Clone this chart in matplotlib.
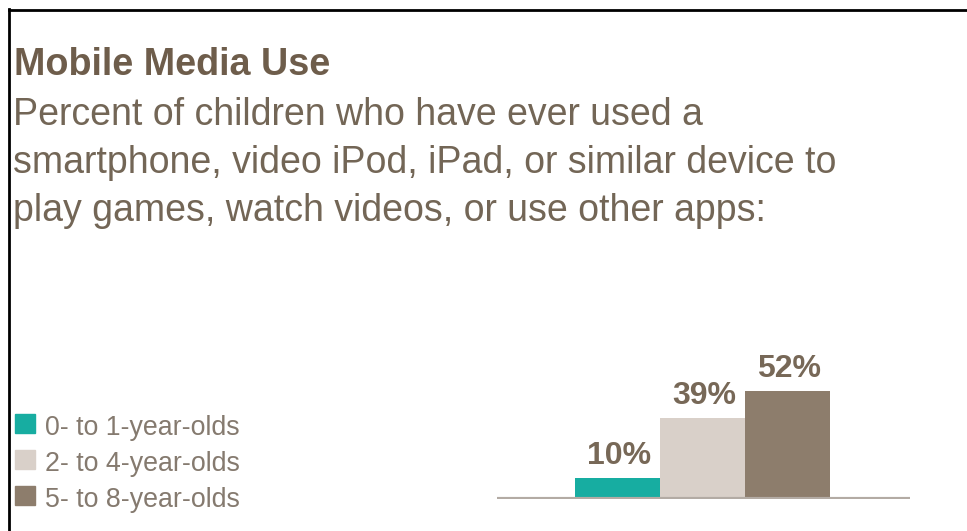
import matplotlib
matplotlib.use("Agg")
import matplotlib.pyplot as plt
from matplotlib.patches import Rectangle
from matplotlib.lines import Line2D

categories = ["0- to 1-year-olds", "2- to 4-year-olds", "5- to 8-year-olds"]
values = [10, 39, 52]
labels = ["10%", "39%", "52%"]
colors = ["#17ada1", "#d9d0c9", "#8d7d6c"]

title = "Mobile Media Use"
subtitle_lines = ["Percent of children who have ever used a",
                  "smartphone, video iPod, iPad, or similar device to",
                  "play games, watch videos, or use other apps:"]

W, H = 967, 531
plt.rcParams["font.family"] = ["Liberation Sans", "DejaVu Sans"]
fig = plt.figure(figsize=(W / 100, H / 100), dpi=100)
fig.patch.set_facecolor("white")

def fx(x):
    return x / W

def fy(y):
    return 1 - y / H

# frame border (left and top)
fig.add_artist(Line2D([fx(9), fx(9)], [fy(9), 0], color="black", lw=2, transform=fig.transFigure))
fig.add_artist(Line2D([fx(9), 1], [fy(10), fy(10)], color="black", lw=2, transform=fig.transFigure))

text_col = "#736656"
fig.text(fx(14), fy(75), title, fontsize=27.2, fontweight="bold", color="#6e5d4b", va="baseline", ha="left")
for i, line in enumerate(subtitle_lines):
    fig.text(fx(13), fy(125 + 48 * i), line, fontsize=27, color=text_col, va="baseline", ha="left")

# bar axes: baseline y=499, x range 497..910
ax_left, ax_right = 497, 910
ax_bottom, ax_top = 499, 299
ax = fig.add_axes([fx(ax_left), fy(ax_bottom), fx(ax_right - ax_left), (ax_bottom - ax_top) / H])
xs = [0, 1, 2]
ax.bar(xs, values, width=1.0, color=colors, align="center", zorder=2)
for x, v, lab in zip(xs, values, labels):
    ax.annotate(lab, (x, v), xytext=(1, 5), textcoords="offset points",
                ha="center", va="bottom", fontsize=23, fontweight="bold", color="#776857")
bw = (830 - 575) / 3
x0 = -0.5 - (575 - ax_left) / bw
x1 = 2.5 + (ax_right - 830) / bw
ax.set_xlim(x0, x1)
ax.set_ylim(0, (ax_bottom - ax_top) / 2.07)
ax.axhline(0, color="#b3aba4", lw=3, zorder=3)
ax.axis("off")

# legend
for i, (cat, c) in enumerate(zip(categories, colors)):
    yb = 435 + 36 * i
    fig.add_artist(Rectangle((fx(15), fy(yb - 2)), fx(20), 19 / H, color=c, transform=fig.transFigure))
    fig.text(fx(45), fy(yb), cat, fontsize=19.3, color="#857a6f", va="baseline", ha="left")

fig.savefig("out.png", dpi=100, facecolor="white")
